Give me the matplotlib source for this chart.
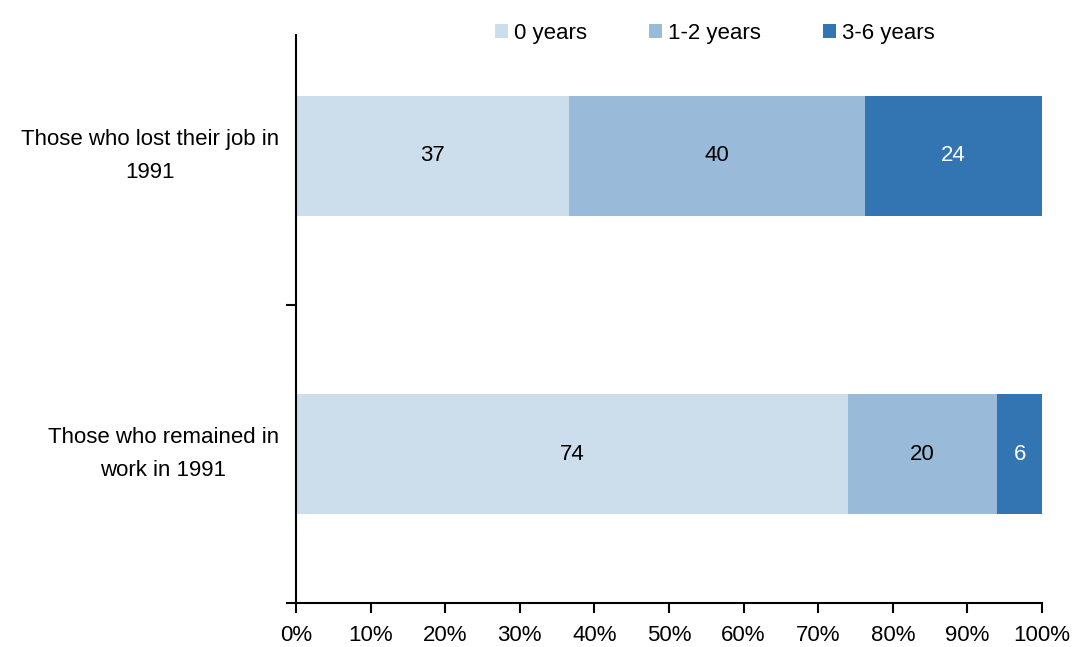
import matplotlib
matplotlib.use("Agg")
import matplotlib.pyplot as plt
import numpy as np

categories = ["Those who remained in\nwork in 1991", "Those who lost their job in\n1991"]
series_names = ["0 years", "1-2 years", "3-6 years"]
values = {
    "0 years": [74, 37],
    "1-2 years": [20, 40],
    "3-6 years": [6, 24],
}
colors = ["#CCDDEB", "#99BAD9", "#3375B2"]
label_colors = ["black", "black", "white"]
xticks = [0, 10, 20, 30, 40, 50, 60, 70, 80, 90, 100]

plt.rcParams['font.family'] = ['Liberation Sans', 'DejaVu Sans']
FS = 16

fig = plt.figure(figsize=(10.78, 6.47), dpi=100)
ax = fig.add_axes([296/1078, 1-603/647, (1042-296)/1078, (603-35)/647])

y = np.arange(len(categories))
totals = np.sum([values[s] for s in series_names], axis=0)
left = np.zeros(len(categories))
handles = []
for s, c, lc in zip(series_names, colors, label_colors):
    v = np.array(values[s], dtype=float)
    w = v / totals * 100
    bars = ax.barh(y, w, left=left, height=0.4, color=c, label=s)
    handles.append(bars)
    for yi, li, wi, vi in zip(y, left, w, v):
        ax.text(li + wi/2, yi, f"{int(vi)}", ha="center", va="center",
                color=lc, fontsize=FS)
    left += w

ax.set_xlim(0, 100)
ax.set_ylim(-0.5, -0.5 + 568/298)
ax.set_xticks(xticks)
ax.set_xticklabels([f"{t}%" for t in xticks], fontsize=FS)
ax.set_yticks([-0.5, 0.5])
ax.set_yticklabels([])
for yi, cat in zip(y, categories):
    ax.text(-2.3, yi, cat, ha="right", va="center", fontsize=FS,
            linespacing=1.75, multialignment="center")

for side in ["top", "right"]:
    ax.spines[side].set_visible(False)
for side in ["left", "bottom"]:
    ax.spines[side].set_linewidth(1.5)
    ax.spines[side].set_color("black")
ax.tick_params(axis="both", direction="out", length=7, width=1.5, pad=9)

leg = fig.legend(handles=handles, labels=series_names, loc="center left",
                 bbox_to_anchor=(495/1078, 1-33/647), ncol=3, frameon=False,
                 fontsize=FS, handlelength=0.6, handleheight=0.6,
                 handletextpad=0.25, columnspacing=2.8, borderaxespad=0,
                 borderpad=0)

fig.savefig("out.png", dpi=100)
